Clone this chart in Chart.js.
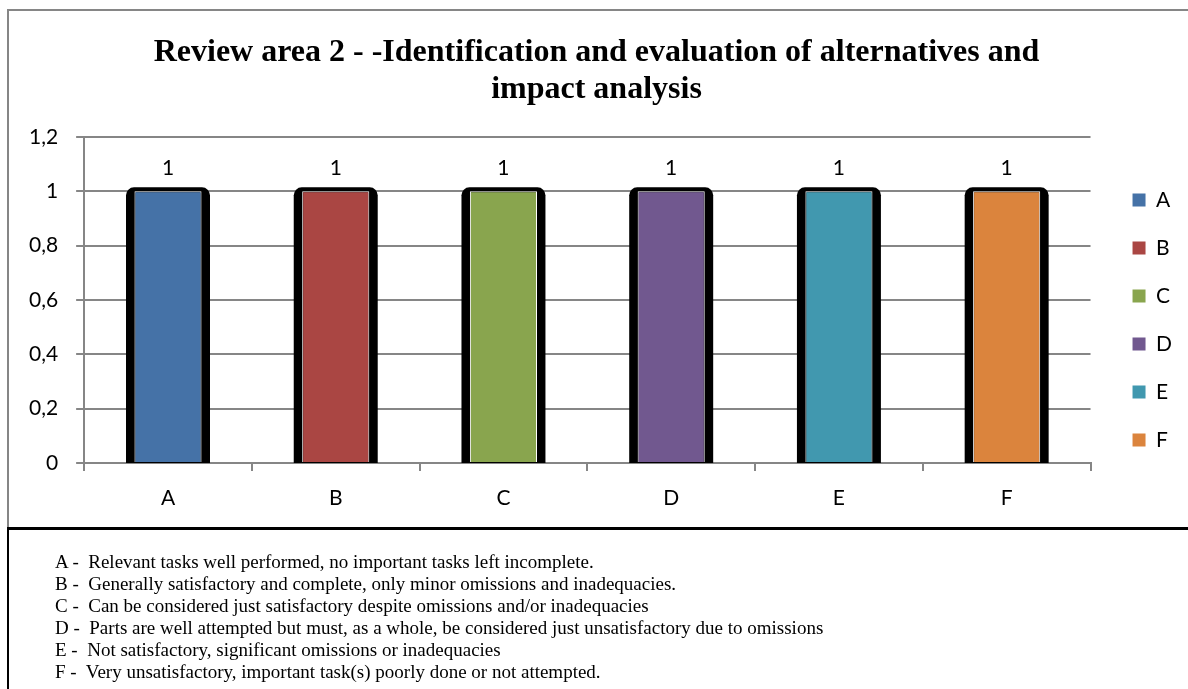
<!DOCTYPE html>
<html>
<head>
<meta charset="utf-8">
<script src="https://cdn.jsdelivr.net/npm/chart.js@4.4.0/dist/chart.umd.min.js"></script>
<style>
  html, body { margin: 0; padding: 0; background: #fff; width: 1188px; height: 689px; overflow: hidden; }
  #chartBox { position: absolute; left: 7px; top: 9px; width: 1240px; height: 519px;
              border-left: 2px solid #868686; border-top: 2px solid #868686; box-sizing: border-box; }
  #wrap { position: absolute; left: 9px; top: 11px; width: 1179px; height: 517px; }
  #notes { position: absolute; left: 7px; top: 527px; width: 1240px; height: 200px;
           border-left: 2px solid #000; border-top: 3px solid #000; box-sizing: border-box;
           padding: 21px 0 0 46px; font-family: "Liberation Serif", "Times New Roman", serif;
           font-size: 19px; line-height: 22px; color: #000; }
  #notes div { white-space: pre; }
</style>
</head>
<body>
<div id="chartBox"></div>
<div id="wrap"><canvas id="chart"></canvas></div>
<div id="notes"></div>
<script>
// Rating categories and the score recorded for each
const categories = ['A', 'B', 'C', 'D', 'E', 'F'];
const scores = [1, 1, 1, 1, 1, 1];
const barColors = ['#4572A7', '#AA4643', '#89A54E', '#71588F', '#4198AF', '#DB843D'];
const yTicks = [0, 0.2, 0.4, 0.6, 0.8, 1, 1.2];
const titleLines = ['Review area 2 - -Identification and evaluation of alternatives and', 'impact analysis'];
const noteLines = [
  'A -  Relevant tasks well performed, no important tasks left incomplete.',
  'B -  Generally satisfactory and complete, only minor omissions and inadequacies.',
  'C -  Can be considered just satisfactory despite omissions and/or inadequacies',
  'D -  Parts are well attempted but must, as a whole, be considered just unsatisfactory due to omissions',
  'E -  Not satisfactory, significant omissions or inadequacies',
  'F -  Very unsatisfactory, important task(s) poorly done or not attempted.'
];

const notesEl = document.getElementById('notes');
noteLines.forEach(t => {
  const d = document.createElement('div');
  d.textContent = t;
  notesEl.appendChild(d);
});

const axisGray = '#868686';
const tickFont = { family: 'Lato, "Open Sans", sans-serif', size: 21 };
const fmt = v => String(+Number(v).toFixed(1)).replace('.', ',');

// Value labels above each coloured bar
const valueLabels = {
  id: 'valueLabels',
  afterDatasetsDraw(chart) {
    const ctx = chart.ctx;
    const meta = chart.getDatasetMeta(0);
    const data = chart.data.datasets[0].data;
    ctx.save();
    ctx.font = `${tickFont.size}px ${tickFont.family}`;
    ctx.fillStyle = '#000';
    ctx.textAlign = 'center';
    ctx.textBaseline = 'middle';
    meta.data.forEach((bar, i) => {
      ctx.fillText(fmt(data[i]), bar.x, bar.y - 23);
    });
    ctx.restore();
  }
};

new Chart(document.getElementById('chart'), {
  type: 'bar',
  data: {
    labels: categories,
    datasets: [
      {
        label: 'Score',
        data: scores,
        backgroundColor: barColors,
        borderColor: '#ffffff',
        borderWidth: 1,
        inflateAmount: 0,
        barPercentage: 0.40,
        categoryPercentage: 1,
        grouped: false
      },
      {
        label: 'Frame',
        data: scores,
        backgroundColor: '#000000',
        borderWidth: 0,
        inflateAmount: 4,
        borderRadius: { topLeft: 8, topRight: 8 },
        barPercentage: 0.453,
        categoryPercentage: 1,
        grouped: false
      }
    ]
  },
  options: {
    responsive: true,
    maintainAspectRatio: false,
    animation: false,
    devicePixelRatio: 1,
    layout: { padding: { left: 2, right: 6, top: 0, bottom: 3 } },
    plugins: {
      title: {
        display: true,
        text: titleLines,
        color: '#000',
        font: { family: '"Liberation Serif", "Times New Roman", serif', size: 32, weight: 'bold', lineHeight: 1.156 },
        padding: { top: 23, bottom: 29 }
      },
      legend: {
        position: 'right',
        align: 'start',
        onClick: null,
        title: { display: true, text: '', font: { size: 10, lineHeight: 1 }, padding: { top: 141.5, bottom: 0 } },
        labels: {
          boxWidth: 13,
          boxHeight: 13,
          padding: 27,
          color: '#000',
          font: tickFont,
          generateLabels: () => categories.map((c, i) => ({
            text: c, fillStyle: barColors[i], strokeStyle: barColors[i],
            lineWidth: 0, hidden: false, index: i, fontColor: '#000'
          }))
        }
      },
      tooltip: { enabled: false }
    },
    scales: {
      x: {
        offset: true,
        z: 1,
        grid: { display: true, drawOnChartArea: false, drawTicks: true, tickLength: 8, color: axisGray, lineWidth: 2, offset: true },
        border: { color: axisGray, width: 2 },
        ticks: { color: '#000', font: tickFont, padding: 14.4 }
      },
      y: {
        min: 0,
        max: 1.2,
        afterBuildTicks: s => { s.ticks = yTicks.map(v => ({ value: v })); },
        grid: { color: axisGray, lineWidth: 2, tickLength: 8 },
        border: { color: axisGray, width: 2 },
        ticks: { color: '#000', font: tickFont, padding: 18, callback: v => fmt(v) }
      },
      gap: {
        position: 'right',
        display: true,
        grid: { display: false },
        border: { display: false },
        ticks: { display: false },
        afterFit: s => { s.width = 15; }
      }
    }
  },
  plugins: [valueLabels]
});
</script>
</body>
</html>
